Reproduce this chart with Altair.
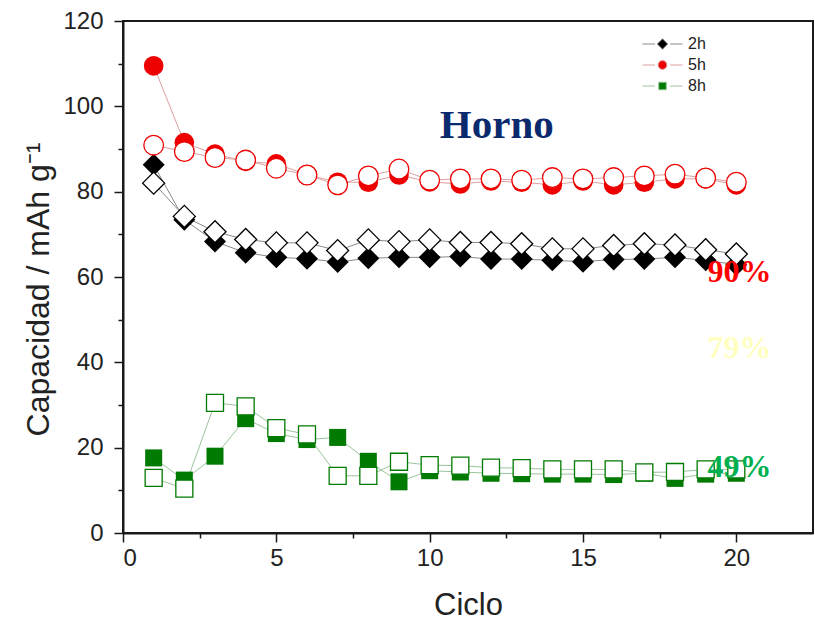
import altair as alt
import pandas as pd

# Ciclos de carga/descarga
ciclos = list(range(1, 21))

# Capacidad (mAh/g) por tiempo de horno: marcador lleno y marcador vacío
cap_2h_lleno = [86.3, 73.4, 68.3, 65.7, 64.6, 64.3, 63.5, 64.4, 64.6, 64.6,
                64.8, 64.2, 64.2, 63.9, 63.6, 64.1, 64.2, 64.6, 63.9, 62.9]
cap_2h_vacio = [82.0, 74.2, 70.6, 68.8, 68.0, 68.0, 66.2, 68.7, 68.3, 68.7,
                68.1, 68.1, 67.8, 66.6, 66.6, 67.4, 67.8, 67.5, 66.4, 65.4]
cap_5h_lleno = [109.5, 91.5, 88.8, 87.1, 86.5, 84.0, 82.2, 82.2, 83.9, 82.3,
                81.8, 82.5, 82.2, 81.6, 82.5, 81.6, 82.2, 83.0, 83.0, 81.6]
cap_5h_vacio = [90.9, 89.4, 88.0, 87.4, 85.5, 83.9, 81.6, 83.7, 85.3, 82.7,
                83.0, 83.0, 82.7, 83.3, 83.0, 83.3, 83.7, 84.1, 83.2, 82.2]
cap_8h_lleno = [17.6, 12.4, 18.0, 26.8, 23.3, 21.9, 22.4, 16.8, 12.0, 14.6,
                14.3, 14.0, 13.9, 13.8, 13.8, 13.7, 14.0, 12.8, 13.8, 14.0]
cap_8h_vacio = [12.9, 10.4, 30.5, 29.7, 24.6, 23.1, 13.4, 13.4, 16.7, 15.9,
                15.8, 15.3, 15.2, 14.9, 14.9, 14.9, 14.2, 14.3, 14.9, 14.9]

series = ["2h", "5h", "8h"]
color_marcador = ["#000000", "#ee0000", "#007a00"]
color_linea = ["#8a8a8a", "#dda0a0", "#9cc49c"]
forma = ["diamond", "circle", "square"]
tamano = [484, 289, 210]

# Símbolos de la leyenda: segmento de línea con el marcador en el centro
forma_leyenda = [
    "M-1,0H-0.38M0.38,0H1M0,-0.26L0.26,0L0,0.26L-0.26,0Z",
    "M-1,0H-0.38M0.38,0H1M-0.22,0A0.22,0.22 0 1,0 0.22,0A0.22,0.22 0 1,0 -0.22,0Z",
    "M-1,0H-0.38M0.38,0H1M-0.19,-0.19H0.19V0.19H-0.19Z",
]

# Anotaciones de texto
ann_texto = ["Horno", "90%", "79%", "49%"]
ann_ciclo = [12.19, 20.1, 20.1, 20.1]
ann_cap = [92.5, 58.9, 40.9, 13.2]
ann_color = ["#0b2a6e", "#ff0000", "#ffffc0", "#00b050"]
ann_tam = [41, 32, 32, 32]

filas = []
for s, lleno, vacio in [("2h", cap_2h_lleno, cap_2h_vacio),
                        ("5h", cap_5h_lleno, cap_5h_vacio),
                        ("8h", cap_8h_lleno, cap_8h_vacio)]:
    for c, v in zip(ciclos, lleno):
        filas.append({"ciclo": c, "capacidad": v, "serie": s, "tipo": "lleno", "grupo": s + "-lleno"})
    for c, v in zip(ciclos, vacio):
        filas.append({"ciclo": c, "capacidad": v, "serie": s, "tipo": "vacio", "grupo": s + "-vacio"})
df = pd.DataFrame(filas)

ann = pd.DataFrame({"ciclo": ann_ciclo, "capacidad": ann_cap, "texto": ann_texto,
                    "color": ann_color, "tam": ann_tam})

FUENTE = "Liberation Sans"

x_enc = alt.X(
    "ciclo:Q",
    scale=alt.Scale(domain=[0, 22.5], nice=False, zero=False),
    axis=alt.Axis(
        values=[0, 2.5, 5, 7.5, 10, 12.5, 15, 17.5, 20],
        labelExpr="datum.value % 5 == 0 ? datum.label : ''",
        tickSize={"condition": {"test": "datum.value % 5 == 0", "value": 9}, "value": 5},
        grid=False,
        labelPadding=4,
        titlePadding=20,
    ),
    title="Ciclo",
)
y_enc = alt.Y(
    "capacidad:Q",
    scale=alt.Scale(domain=[0, 120], nice=False),
    axis=alt.Axis(
        values=list(range(0, 121, 10)),
        labelExpr="datum.value % 20 == 0 ? datum.label : ''",
        tickSize={"condition": {"test": "datum.value % 20 == 0", "value": 9}, "value": 5},
        grid=False,
        labelPadding=11,
        titlePadding=7,
        titleFontSize=32,
        titleY=268,
    ),
    title="Capacidad / mAh g⁻¹",
)

esc_forma = alt.Scale(domain=series, range=forma)
esc_tam = alt.Scale(domain=series, range=tamano)

lineas = alt.Chart(df).mark_line(strokeWidth=1).encode(
    x=x_enc, y=y_enc,
    stroke=alt.Stroke("serie:N", scale=alt.Scale(domain=series, range=color_linea), legend=None),
    detail="grupo:N",
)

llenos = alt.Chart(df).transform_filter(alt.datum.tipo == "lleno").mark_point(
    filled=True, opacity=1
).encode(
    x=x_enc, y=y_enc,
    fill=alt.Fill("serie:N", scale=alt.Scale(domain=series, range=color_marcador), legend=None),
    shape=alt.Shape("serie:N", scale=esc_forma, legend=None),
    size=alt.Size("serie:O", scale=esc_tam, legend=None),
)

vacios = alt.Chart(df).transform_filter(alt.datum.tipo == "vacio").mark_point(
    filled=False, fill="white", opacity=1, strokeWidth=1.3
).encode(
    x=x_enc, y=y_enc,
    color=alt.Color("serie:N", scale=alt.Scale(domain=series, range=color_marcador), legend=None),
    shape=alt.Shape("serie:N", scale=esc_forma, legend=None),
    size=alt.Size("serie:O", scale=esc_tam, legend=None),
)

ley = alt.Legend(
    title=None, orient="none", legendX=519, legendY=15, padding=0,
    symbolSize=1600, clipHeight=16, rowPadding=5, labelOffset=5,
    labelFont=FUENTE, labelFontSize=16, labelColor="#222222",
    symbolStrokeWidth=1,
)
leyenda = alt.Chart(df).transform_filter("false").mark_point(
    filled=True, opacity=1, strokeWidth=1
).encode(
    shape=alt.Shape("serie:N", scale=alt.Scale(domain=series, range=forma_leyenda), legend=ley),
    fill=alt.Fill("serie:N", scale=alt.Scale(domain=series, range=color_marcador), legend=ley),
    stroke=alt.Stroke("serie:N", scale=alt.Scale(domain=series, range=color_linea), legend=ley),
)

textos = alt.Chart(ann).mark_text(
    font="Liberation Serif", fontWeight="bold", align="center", baseline="alphabetic"
).encode(
    x=x_enc, y=y_enc,
    text="texto:N",
    color=alt.Color("color:N", scale=None),
    size=alt.Size("tam:Q", scale=None),
)

chart = alt.layer(lineas, llenos, vacios, leyenda, textos).resolve_scale(
    shape="independent", fill="independent", stroke="independent"
).properties(
    width=690, height=512,
    padding={"left": 123, "top": 21, "right": 2, "bottom": 89},
    autosize=alt.AutoSizeParams(type="none"),
    background="white",
).configure_view(
    stroke="#1a1a1a", strokeWidth=2
).configure_axis(
    domainColor="#1a1a1a", domainWidth=2, tickColor="#1a1a1a", tickWidth=1.5,
    labelFont=FUENTE, labelFontSize=24, labelColor="#222222",
    titleFont=FUENTE, titleFontSize=31, titleFontWeight="normal", titleColor="#222222",
)

chart.save("out.html", embed_options={"renderer": "svg", "actions": False})
